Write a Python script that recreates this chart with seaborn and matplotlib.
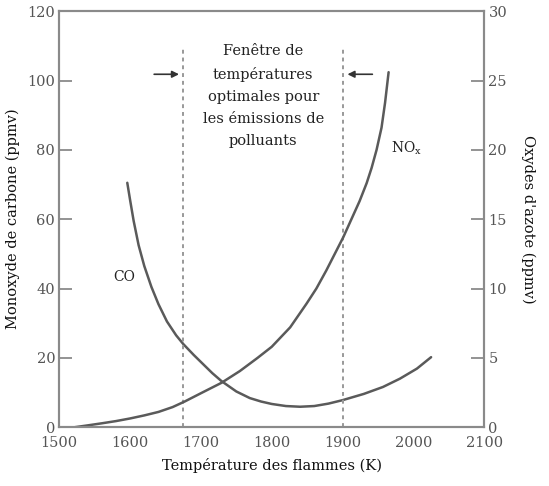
import matplotlib
matplotlib.use("Agg")
import matplotlib.pyplot as plt
import seaborn as sns
import pandas as pd

# ----------------------------
# Data
# ----------------------------
co_temp = [1596, 1600, 1605, 1612, 1620, 1630, 1640, 1652, 1665, 1675, 1690, 1703, 1716, 1729,
           1750, 1769, 1785, 1800, 1820, 1840, 1860, 1880, 1900, 1930, 1957, 1981, 2005, 2025]
co_ppmv = [70.5, 65.5, 59.5, 52.5, 46.5, 40.5, 35.5, 30.5, 26.5, 24.0, 20.8, 18.2, 15.6, 13.3,
           10.3, 8.4, 7.4, 6.7, 6.1, 5.9, 6.1, 6.8, 7.8, 9.6, 11.6, 14.0, 16.9, 20.2]

nox_temp = [1522, 1540, 1560, 1580, 1600, 1620, 1640, 1660, 1677, 1700, 1729, 1755, 1780, 1800,
            1826, 1849, 1863, 1877, 1901, 1924, 1934, 1941, 1948, 1955, 1960, 1965]
nox_ppmv = [0, 0.13, 0.28, 0.44, 0.63, 0.85, 1.1, 1.45, 1.85, 2.45, 3.2, 4.05, 5.0, 5.8,
            7.2, 8.9, 10.0, 11.3, 13.7, 16.3, 17.6, 18.7, 20.0, 21.6, 23.4, 25.6]

window = [1675, 1900]
x_ticks = [1500, 1600, 1700, 1800, 1900, 2000, 2100]
co_ticks = [0, 20, 40, 60, 80, 100, 120]
nox_ticks = [0, 5, 10, 15, 20, 25, 30]

co_df = pd.DataFrame({"T": co_temp, "CO": co_ppmv})
nox_df = pd.DataFrame({"T": nox_temp, "NOx": nox_ppmv})

sns.set_style("white")
plt.rcParams["font.family"] = ["DejaVu Serif"]

spine_col = "#8a8a8a"
line_col = "#5a5a5a"
tick_col = "#555555"

fig = plt.figure(figsize=(5.49, 4.86), dpi=100)
ax = fig.add_axes([0.108, 0.121, 0.774, 0.856])
ax2 = ax.twinx()

sns.lineplot(data=co_df, x="T", y="CO", ax=ax, color=line_col, linewidth=1.8)
sns.lineplot(data=nox_df, x="T", y="NOx", ax=ax2, color=line_col, linewidth=1.8)

# optimal window
for t in window:
    ax.plot([t, t], [0, 110], color="#999999", linestyle=(0, (2, 2)), linewidth=1.4)

ax.annotate("", xy=(window[0] - 2, 101.8), xytext=(window[0] - 45, 101.8),
            arrowprops=dict(arrowstyle="-|>", color="#333333", lw=1.2, mutation_scale=10))
ax.annotate("", xy=(window[1] + 3, 101.8), xytext=(window[1] + 46, 101.8),
            arrowprops=dict(arrowstyle="-|>", color="#333333", lw=1.2, mutation_scale=10))

ax.text(1788, 110.5, "Fenêtre de\ntempératures\noptimales pour\nles émissions de\npolluants",
        ha="center", va="top", fontsize=10.5, linespacing=1.72, color="#222222")
ax.text(1592, 43.3, "CO", ha="center", va="center", fontsize=10, color="#222222")
ax.text(1968, 80.5, r"NO$_\mathregular{x}$", ha="left", va="center", fontsize=10, color="#222222")

ax.set_xlim(1500, 2100)
ax.set_ylim(0, 120)
ax2.set_ylim(0, 30)
ax.set_xticks(x_ticks)
ax.set_yticks(co_ticks)
ax2.set_yticks(nox_ticks)

ax.set_xlabel("Température des flammes (K)", fontsize=10.5, color="#111111", labelpad=6)
ax.set_ylabel("Monoxyde de carbone (ppmv)", fontsize=10.5, color="#111111", labelpad=5)
ax2.set_ylabel("Oxydes d'azote (ppmv)", fontsize=10.5, color="#111111", rotation=270, labelpad=20)

for a in (ax, ax2):
    a.tick_params(direction="in", length=9.5, width=1.3, color=spine_col,
                  labelsize=10.5, labelcolor=tick_col, pad=3)
    for s in a.spines.values():
        s.set_color(spine_col)
        s.set_linewidth(1.5)
ax.tick_params(axis="x", pad=6)

plt.savefig("out.png", dpi=100)
plt.close()
